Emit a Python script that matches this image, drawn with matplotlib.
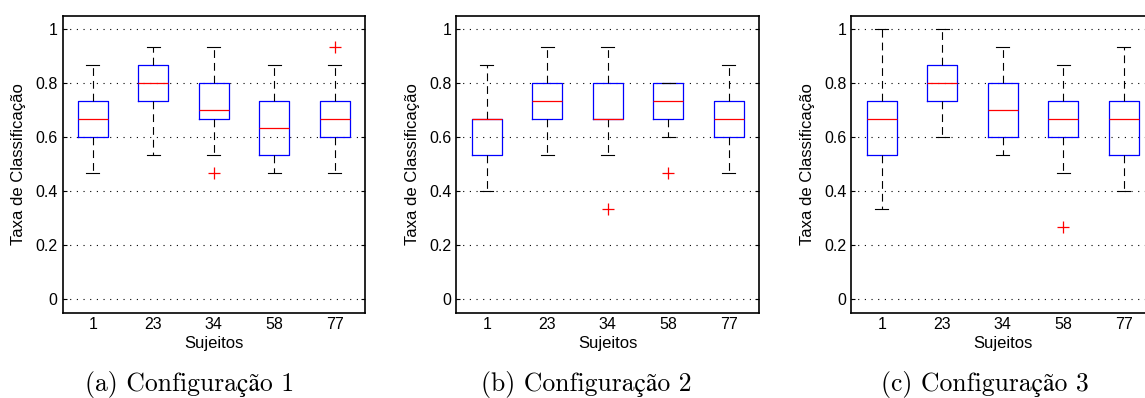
import matplotlib

matplotlib.use("Agg")

import matplotlib.pyplot as plt
from matplotlib.ticker import FuncFormatter

# subjects on the x axis
subjects = ["1", "23", "34", "58", "77"]

# configuration 1
cfg1_low = [0.4667, 0.5333, 0.5333, 0.4667, 0.4667]
cfg1_q1 = [0.6, 0.7333, 0.6667, 0.5333, 0.6]
cfg1_med = [0.6667, 0.8, 0.7, 0.6333, 0.6667]
cfg1_q3 = [0.7333, 0.8667, 0.8, 0.7333, 0.7333]
cfg1_high = [0.8667, 0.9333, 0.9333, 0.8667, 0.8667]
cfg1_out = [[], [], [0.4667], [], [0.9333]]

# configuration 2
cfg2_low = [0.4, 0.5333, 0.5333, 0.6, 0.4667]
cfg2_q1 = [0.5333, 0.6667, 0.6667, 0.6667, 0.6]
cfg2_med = [0.6667, 0.7333, 0.6667, 0.7333, 0.6667]
cfg2_q3 = [0.6667, 0.8, 0.8, 0.8, 0.7333]
cfg2_high = [0.8667, 0.9333, 0.9333, 0.8, 0.8667]
cfg2_out = [[], [], [0.3333], [0.4667], []]

# configuration 3
cfg3_low = [0.3333, 0.6, 0.5333, 0.4667, 0.4]
cfg3_q1 = [0.5333, 0.7333, 0.6, 0.6, 0.5333]
cfg3_med = [0.6667, 0.8, 0.7, 0.6667, 0.6667]
cfg3_q3 = [0.7333, 0.8667, 0.8, 0.7333, 0.7333]
cfg3_high = [1.0, 1.0, 0.9333, 0.8667, 0.9333]
cfg3_out = [[], [], [], [0.2667], []]

captions = ["(a) Configuração 1", "(b) Configuração 2", "(c) Configuração 3"]

configs = [
    (cfg1_low, cfg1_q1, cfg1_med, cfg1_q3, cfg1_high, cfg1_out),
    (cfg2_low, cfg2_q1, cfg2_med, cfg2_q3, cfg2_high, cfg2_out),
    (cfg3_low, cfg3_q1, cfg3_med, cfg3_q3, cfg3_high, cfg3_out),
]


def make_stats(low, q1, med, q3, high, out):
    stats = []
    for i in range(len(subjects)):
        stats.append({
            "label": subjects[i],
            "whislo": low[i],
            "q1": q1[i],
            "med": med[i],
            "q3": q3[i],
            "whishi": high[i],
            "fliers": out[i],
        })
    return stats


W, H = 1145, 398
fig = plt.figure(figsize=(W / 100, H / 100), dpi=100)

lefts = [62.5, 456.5, 851.5]
caption_x = [190, 586, 985]
sans = "Liberation Sans"

for k in range(3):
    ax = fig.add_axes([lefts[k] / W, (H - 312.5) / H, 302.5 / W, 297 / H])
    ax.bxp(
        make_stats(*configs[k]),
        widths=0.5,
        capwidths=0.21,
        boxprops=dict(color="#0000ff", linewidth=0.9),
        medianprops=dict(color="#ff0000", linewidth=0.9),
        whiskerprops=dict(color="black", linewidth=0.8, linestyle=(0, (7, 4.5))),
        capprops=dict(color="black", linewidth=0.8),
        flierprops=dict(marker="+", markeredgecolor="#ff0000",
                        markersize=8, markeredgewidth=0.9, linestyle="none"),
    )
    ax.set_xlim(0.5, 5.5)
    ax.set_ylim(-0.05, 1.05)
    ax.set_yticks([0, 0.2, 0.4, 0.6, 0.8, 1])
    ax.yaxis.set_major_formatter(FuncFormatter(lambda v, p: "%g" % v))
    ax.grid(True, axis="y", color="black", linestyle=(0, (1, 5)), linewidth=0.8)
    ax.set_axisbelow(True)
    ax.tick_params(axis="y", direction="in", length=3, width=0.8,
                   left=True, right=True, pad=3.5,
                   labelsize=11.5, labelfontfamily=sans)
    ax.tick_params(axis="x", length=0, pad=3,
                   labelsize=11.5, labelfontfamily=sans)
    for spine in ax.spines.values():
        spine.set_linewidth(1.2)
    ax.set_ylabel("Taxa de Classificação", fontsize=12, family=sans)
    ax.set_xlabel("Sujeitos", fontsize=12, family=sans)
    ax.yaxis.set_label_coords(-0.122, 0.5)
    ax.xaxis.set_label_coords(0.5, -0.078)

    fig.text(caption_x[k] / W, 1 - 385 / H, captions[k], ha="center", va="center",
             fontsize=18.5, family=["cmr10", "STIXGeneral"])

fig.savefig("out.png", dpi=100)
